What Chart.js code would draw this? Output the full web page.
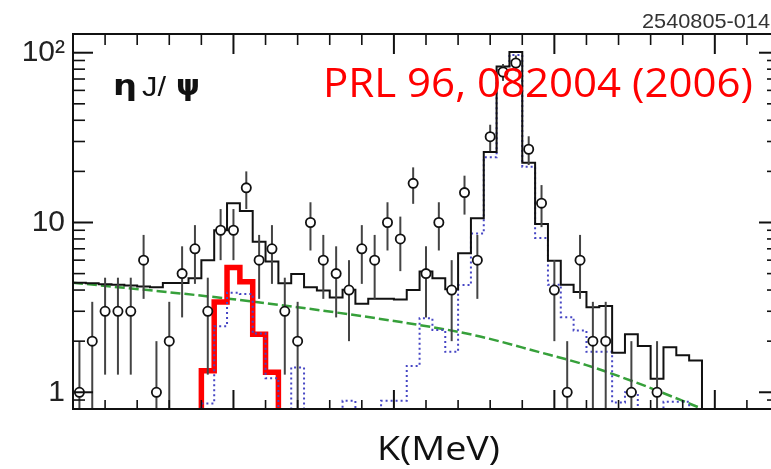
<!DOCTYPE html>
<html>
<head>
<meta charset="utf-8">
<script src="https://cdn.jsdelivr.net/npm/chart.js@4.4.0/dist/chart.umd.min.js"></script>
<style>
  html, body { margin: 0; padding: 0; background: #fff; overflow: hidden; }
  #wrap { width: 771px; height: 469px; overflow: hidden; }
</style>
</head>
<body>
<div id="wrap"><canvas id="histChart" width="790" height="469"></canvas></div>
<script>
// bins are 4 units wide, bin i covers [4i, 4i+4]
const binWidth = 4;

// measured counts per bin (null = no entry) and their errors
const counts = [1, 2, 3, 3, 3, 6, 1, 2, 5, 7, 3, 9, 9, 16, 6, 7, 3, 2, 10, 6, 5, 4, 7, 6, 10, 8, 17, 5, 10, 4,
  15, 6, 32, 77, 87, 27, 13, 4, 1, 6, 2, 2, null, 1, null, 1];
const countErrors = [1, 1.41, 1.73, 1.73, 1.73, 2.45, 1, 1.41, 2.24, 2.65, 1.73, 3, 3, 4, 2.45, 2.65, 1.73, 1.41,
  3.16, 2.45, 2.24, 2, 2.65, 2.45, 3.16, 2.83, 4.12, 2.24, 3.16, 2, 3.87, 2.45, 5.66, 8.77, 9.33, 5.2, 3.61, 2,
  1, 2.45, 1.41, 1.41, null, 1, null, 1];

// total fit (black), bins 0..48
const totalFit = [4.42, 4.38, 4.33, 4.3, 4.25, 4.2, 4.15, 4.4, 4.4, 4.69, 6.0, 9.0, 13.0, 11.7, 7.7, 5.9, 4.38,
  4.97, 4.15, 3.97, 3.62, 4.02, 3.32, 3.55, 3.55, 3.52, 4.0, 5.15, 4.69, 4.05, 6.6, 10.6, 26, 83, 101, 22.5,
  9.8, 5.95, 4.3, 3.9, 3.17, 3.22, 1.71, 2.2, 1.87, 1.2, 1.84, 1.65, 1.54];

// eta J/psi signal component (red), starts at bin 10
const etaFitStart = 10;
const etaFit = [1.34, 3.4, 5.44, 4.48, 2.2, 1.31];

// other signal component (blue dotted), starts at bin 10, 0 = empty
const otherFitStart = 10;
const otherFit = [0.86, 2.45, 3.86, 3.79, 2.22, 1.21, 0, 1.4, 0, 0, 0, 0.89, 0, 0, 0.89, 0.89, 1.43, 2.73,
  2.33, 1.73, 4.28, 8.6, 24.2, 79, 97, 21.3, 8.1, 4.3, 2.77, 2.31, 1.73, 1.73, 0.87, 1.0, 0, 0, 0.88, 0.88];

// background (green dashed)
const bgX = [0, 50, 100, 125, 145, 160, 175, 190, 205];
const bgY = [4.42, 3.53, 2.63, 2.17, 1.73, 1.445, 1.15, 0.89, 0.68];

// axis ticks
const yLabelTicks = [1, 10, 100];
const yMinorTicks = [0.9, 2, 3, 4, 5, 6, 7, 8, 9, 20, 30, 40, 50, 60, 70, 80, 90];
const xMajorTicks = [0, 50, 100, 150, 200];
const xMinorTicks = [10, 20, 30, 40, 60, 70, 80, 90, 110, 120, 130, 140, 160, 170, 180, 190, 210];

function histPoints(values, startBin, fromBottom) {
  const pts = [];
  if (fromBottom) pts.push({ x: startBin * binWidth, y: 0.5 });
  values.forEach((v, k) => pts.push({ x: (startBin + k) * binWidth, y: v > 0 ? v : 0.5 }));
  pts.push({ x: (startBin + values.length) * binWidth, y: 0.5 });
  return pts;
}

function fitText(ctx, text, left, baseline, font, color, width) {
  ctx.font = font;
  const w = ctx.measureText(text).width;
  ctx.save();
  ctx.translate(left, baseline);
  ctx.scale(width / w, 1);
  ctx.fillStyle = color;
  ctx.textBaseline = "alphabetic";
  ctx.textAlign = "left";
  ctx.fillText(text, 0, 0);
  ctx.restore();
}

document.addEventListener("DOMContentLoaded", function () {
  const dataPoints = [];
  counts.forEach((c, i) => {
    if (c !== null) dataPoints.push({ x: i * binWidth + binWidth / 2, y: c });
  });

  // vertical error bars under the data circles
  const errorBars = {
    id: "errorBars",
    beforeDatasetDraw(chart, args) {
      if (args.index !== 0) return;
      const { ctx, chartArea: a, scales: { x, y } } = chart;
      ctx.save();
      ctx.beginPath();
      ctx.rect(a.left, a.top, a.right - a.left, a.bottom - a.top);
      ctx.clip();
      ctx.strokeStyle = "#444";
      ctx.lineWidth = 2;
      counts.forEach((c, i) => {
        if (c === null) return;
        const px = x.getPixelForValue(i * binWidth + binWidth / 2);
        const lo = c - countErrors[i];
        const yTop = y.getPixelForValue(c + countErrors[i]);
        const yBot = lo > 0.05 ? y.getPixelForValue(lo) : a.bottom + 5;
        ctx.beginPath();
        ctx.moveTo(px, yTop);
        ctx.lineTo(px, yBot);
        ctx.stroke();
      });
      ctx.restore();
    },
  };

  // frame, inward ticks and the annotations
  const frameAndText = {
    id: "frameAndText",
    afterDraw(chart) {
      const { ctx, chartArea: a, scales: { x, y } } = chart;
      ctx.save();
      ctx.strokeStyle = "#111";
      ctx.lineWidth = 2;
      ctx.strokeRect(a.left, a.top, a.right - a.left, a.bottom - a.top);
      const seg = (x1, y1, x2, y2, w) => {
        ctx.lineWidth = w;
        ctx.beginPath();
        ctx.moveTo(x1, y1);
        ctx.lineTo(x2, y2);
        ctx.stroke();
      };
      xMajorTicks.forEach((v) => {
        const px = x.getPixelForValue(v);
        seg(px, a.top, px, a.top + 20, 2);
        seg(px, a.bottom, px, a.bottom - 19, 2);
      });
      xMinorTicks.forEach((v) => {
        const px = x.getPixelForValue(v);
        seg(px, a.top, px, a.top + 11, 1.6);
        seg(px, a.bottom, px, a.bottom - 9, 1.6);
      });
      yLabelTicks.forEach((v) => {
        const py = y.getPixelForValue(v);
        seg(a.left, py, a.left + 20, py, 2);
        seg(a.right, py, a.right - 20, py, 2);
      });
      yMinorTicks.forEach((v) => {
        const py = y.getPixelForValue(v);
        seg(a.left, py, a.left + 12, py, 1.6);
        seg(a.right, py, a.right - 12, py, 1.6);
      });

      fitText(ctx, "2540805-014", 642, 28, '21px "Liberation Sans"', "#333", 128);
      fitText(ctx, "η", 113, 95, 'bold 28px "DejaVu Sans"', "#111", 24);
      fitText(ctx, "J/", 142, 96, '28px "Liberation Sans"', "#111", 24);
      fitText(ctx, "ψ", 176, 95, 'bold 28px "DejaVu Sans"', "#111", 24);
      fitText(ctx, "PRL 96, 082004 (2006)", 323, 97, '40px "Open Sans"', "#ff0000", 430);
      fitText(ctx, "K(MeV)", 377, 460, '32px "Open Sans"', "#111", 123);
      ctx.restore();
    },
  };

  const ctx = document.getElementById("histChart").getContext("2d");
  new Chart(ctx, {
    type: "line",
    data: {
      datasets: [
        {
          label: "data",
          data: dataPoints,
          showLine: false,
          pointRadius: 4.6,
          pointBorderWidth: 1.8,
          pointBorderColor: "#111",
          pointBackgroundColor: "#fff",
          order: 0,
        },
        {
          label: "total",
          data: histPoints(totalFit, 0, false),
          stepped: true,
          borderColor: "#111",
          borderWidth: 2,
          pointRadius: 0,
          order: 1,
        },
        {
          label: "other",
          data: histPoints(otherFit, otherFitStart, true),
          stepped: true,
          borderColor: "#4646c4",
          borderWidth: 2,
          borderDash: [2, 3],
          pointRadius: 0,
          order: 2,
        },
        {
          label: "eta",
          data: histPoints(etaFit, etaFitStart, true),
          stepped: true,
          borderColor: "#ff0000",
          borderWidth: 5.5,
          pointRadius: 0,
          order: 3,
        },
        {
          label: "background",
          data: bgX.map((v, k) => ({ x: v, y: bgY[k] })),
          cubicInterpolationMode: "monotone",
          borderColor: "#36a03a",
          borderWidth: 2.5,
          borderDash: [10, 4],
          pointRadius: 0,
          order: 4,
        },
      ],
    },
    options: {
      responsive: false,
      animation: false,
      events: [],
      layout: { padding: { top: 34, right: 11, bottom: 0, left: 0 } },
      plugins: {
        legend: { display: false },
        tooltip: { enabled: false },
      },
      scales: {
        x: {
          type: "linear",
          min: 0,
          max: 220,
          grid: { display: false, drawTicks: false },
          border: { display: false },
          ticks: { display: false },
          afterFit(scale) { scale.height = 60; },
        },
        y: {
          type: "logarithmic",
          min: 0.797,
          max: 128.9,
          grid: { display: false, drawTicks: false },
          border: { display: false },
          afterBuildTicks(scale) {
            scale.ticks = yLabelTicks.map((v) => ({ value: v }));
          },
          ticks: {
            autoSkip: false,
            padding: 8,
            color: "#222",
            font: { family: "Liberation Sans", size: 30 },
            callback: (v) => (v === 100 ? "10²" : String(v)),
          },
          afterFit(scale) { scale.width = 73; },
        },
      },
    },
    plugins: [errorBars, frameAndText],
  });
});
</script>
</body>
</html>
